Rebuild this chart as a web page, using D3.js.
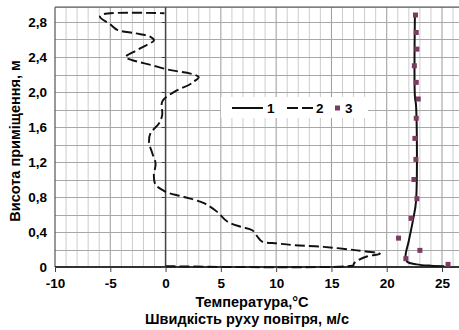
<!DOCTYPE html>
<html>
<head>
<meta charset="utf-8">
<script src="https://cdn.jsdelivr.net/npm/d3@7"></script>
<style>
  body { margin: 0; background: #fff; }
  text { font-family: "Liberation Sans", Arial, sans-serif; font-weight: bold; fill: #000; }
</style>
</head>
<body>
<svg width="459" height="330"></svg>
<script>
// series 1 - temperature (solid line)
const tempX = [22.55, 22.55, 22.65, 22.65, 22.4, 22.0, 21.7, 21.85, 22.7, 24.0, 25.2]
const tempY = [2.88, 1.95, 1.85, 0.75, 0.55, 0.3, 0.12, 0.06, 0.03, 0.015, 0.01]

// series 2 - air velocity (dashed line)
const airX = [0, 17.0, 17.0, 17.2, 18.2, 19.4, 17.3, 14.3, 11.6, 10.1, 8.74, 8.29, 7.84, 6.78, 5.58, 4.67, 3.47, 1.66, 0.15, -0.15, -0.9,
  -1.06, -0.9, -1.2, -1.5, -1.36, -0.6, -0.3, -0.3, 0.9, 2.1, 2.56, 3.0, 2.26, 0.45, -1.36, -3.16, -3.62, -2.56, -1.66, -1.05,
  -1.36, -2.71, -4.37, -4.97, -5.94, -5.6, -0.1]
const airY = [0.01, 0.02, 0.03, 0.06, 0.12, 0.15, 0.19, 0.23, 0.25, 0.27, 0.29, 0.35, 0.42, 0.46, 0.52, 0.63, 0.73, 0.80, 0.85, 0.87, 0.94,
  1.05, 1.18, 1.30, 1.43, 1.53, 1.64, 1.74, 1.89, 2.01, 2.08, 2.12, 2.17, 2.21, 2.25, 2.31, 2.37, 2.40, 2.48, 2.54, 2.59,
  2.63, 2.67, 2.71, 2.77, 2.86, 2.89, 2.90]

// series 3 - measured points
const pointX = [25.55, 21.73, 23.0, 21.07, 22.2, 22.73, 22.46, 22.64, 22.55, 22.67, 22.85, 22.67, 22.5, 22.73, 22.67, 22.6]
const pointY = [0.03, 0.095, 0.19, 0.33, 0.556, 0.78, 1.00, 1.23, 1.47, 1.70, 1.92, 2.11, 2.30, 2.49, 2.68, 2.88]

const xTicks = [-10, -5, 0, 5, 10, 15, 20, 25]
const yTicks = [0, 0.4, 0.8, 1.2, 1.6, 2.0, 2.4, 2.8]
const legendLabels = ["1", "2", "3"]

const svg = d3.select("svg")

let x = d3.scaleLinear().domain([-10, 25]).range([55, 442])
let y = d3.scaleLinear().domain([0, 2.8]).range([267, 22])
const xMax = 27.5
const yMax = 2.97

// grid
let grid = svg.append("g")
for (let v = -9; v <= xMax; v++) {
    grid.append("line")
        .attr("x1", x(v)).attr("x2", x(v))
        .attr("y1", y(0)).attr("y2", y(yMax))
        .attr("stroke", v % 5 === 0 ? "#9a9a9a" : "#cdcdcd")
        .attr("stroke-width", 1)
}
for (let v = 0.2; v < 2.9; v += 0.2) {
    grid.append("line")
        .attr("x1", x(-10)).attr("x2", x(xMax))
        .attr("y1", Math.round(y(v)) + 0.5).attr("y2", Math.round(y(v)) + 0.5)
        .attr("stroke", "#a8a8a8")
}

// plot frame
svg.append("line").attr("x1", x(-10)).attr("x2", x(-10)).attr("y1", y(0)).attr("y2", y(yMax))
    .attr("stroke", "#555").attr("stroke-width", 1.2)
svg.append("line").attr("x1", x(-10)).attr("x2", x(xMax)).attr("y1", y(yMax)).attr("y2", y(yMax))
    .attr("stroke", "#555").attr("stroke-width", 1.2)

// x axis
let xAxis = svg.append("g")
    .attr("transform", `translate(0,${y(0)})`)
    .call(d3.axisBottom(x).tickValues(xTicks).tickSize(5).tickPadding(6).tickFormat(d => String(d)))
xAxis.select(".domain").attr("d", `M${x(-10)},0H${x(xMax)}`).attr("stroke", "#333").attr("stroke-width", 1.8)
xAxis.selectAll(".tick line").attr("stroke", "#444")
xAxis.selectAll("text").attr("font-size", "13.5px").attr("font-family", "Liberation Sans, Arial").attr("font-weight", "bold")

// y axis line through zero
let yAxis = svg.append("g")
    .attr("transform", `translate(${x(0)},0)`)
    .call(d3.axisLeft(y).tickValues(yTicks).tickSize(4).tickFormat(""))
yAxis.select(".domain").attr("d", `M0,${y(0)}V${y(yMax)}`).attr("stroke", "#444").attr("stroke-width", 1.5)
yAxis.selectAll(".tick line").attr("stroke", "#444")

// y labels sit at the low end
svg.append("g").selectAll("text")
    .data(yTicks)
    .enter()
    .append("text")
    .attr("x", 47)
    .attr("y", d => y(d) + 5)
    .attr("text-anchor", "end")
    .attr("font-size", "13.5px")
    .text(d => d === 0 ? "0" : d.toFixed(1).replace(".", ","))

// axis titles
svg.append("text")
    .attr("x", 252).attr("y", 307)
    .attr("text-anchor", "middle")
    .attr("font-size", "14.5px")
    .text("Температура,°C")
svg.append("text")
    .attr("x", 247).attr("y", 324)
    .attr("text-anchor", "middle")
    .attr("font-size", "14.5px")
    .text("Швидкість руху повітря, м/с")
svg.append("text")
    .attr("transform", "translate(20,141) rotate(-90)")
    .attr("text-anchor", "middle")
    .attr("font-size", "14.5px")
    .text("Висота приміщення, м")

// lines
const airData = airX.map((v, i) => [v, airY[i]])
const tempData = tempX.map((v, i) => [v, tempY[i]])
const pointData = pointX.map((v, i) => [v, pointY[i]])

let lineGen = d3.line()
    .x(d => x(d[0]))
    .y(d => y(d[1]))
    .curve(d3.curveCatmullRom.alpha(0.5))

svg.append("path")
    .datum(airData)
    .attr("d", lineGen)
    .attr("fill", "none")
    .attr("stroke", "#111")
    .attr("stroke-width", 1.9)
    .attr("stroke-dasharray", "10,4")

svg.append("path")
    .datum(tempData)
    .attr("d", lineGen)
    .attr("fill", "none")
    .attr("stroke", "#111")
    .attr("stroke-width", 2)

svg.append("g").selectAll("rect")
    .data(pointData)
    .enter()
    .append("rect")
    .attr("x", d => x(d[0]) - 2.5)
    .attr("y", d => y(d[1]) - 2.5)
    .attr("width", 5)
    .attr("height", 5)
    .attr("fill", "#7b3c62")

// legend
let legend = svg.append("g")
legend.append("rect")
    .attr("x", 221).attr("y", 97).attr("width", 147).attr("height", 21)
    .attr("fill", "#fff")
legend.append("line")
    .attr("x1", 232).attr("x2", 263).attr("y1", 108).attr("y2", 108)
    .attr("stroke", "#111").attr("stroke-width", 2)
legend.append("text").attr("x", 267).attr("y", 113).attr("font-size", "13.5px").text(legendLabels[0])
legend.append("line")
    .attr("x1", 287).attr("x2", 313).attr("y1", 108).attr("y2", 108)
    .attr("stroke", "#111").attr("stroke-width", 2).attr("stroke-dasharray", "11,4")
legend.append("text").attr("x", 316).attr("y", 113).attr("font-size", "13.5px").text(legendLabels[1])
legend.append("rect")
    .attr("x", 335).attr("y", 105.5).attr("width", 5).attr("height", 5)
    .attr("fill", "#7b3c62")
legend.append("text").attr("x", 345).attr("y", 113).attr("font-size", "13.5px").text(legendLabels[2])
</script>
</body>
</html>
